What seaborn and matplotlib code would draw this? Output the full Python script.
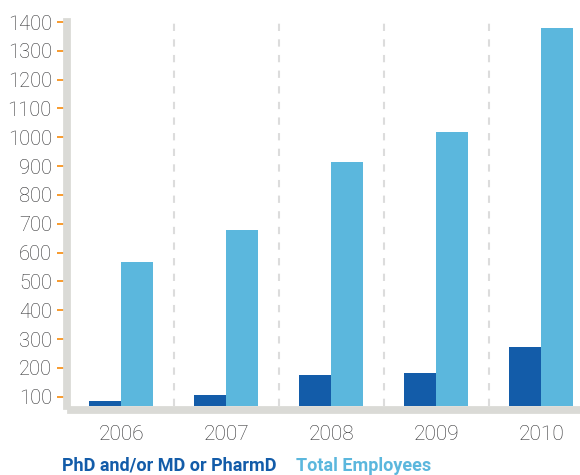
import numpy as np
import pandas as pd
import matplotlib
matplotlib.use('Agg')
import matplotlib.pyplot as plt
import seaborn as sns

# Data
years = ['2006', '2007', '2008', '2009', '2010']
phd_md_pharmd = [86, 107, 176, 183, 273]
total_employees = [568, 678, 913, 1017, 1380]
series_names = ['PhD and/or MD or PharmD', 'Total Employees']
y_ticks = list(range(100, 1500, 100))

dark_blue = '#135ca9'
light_blue = '#5bb7dd'
axis_gray = '#dadad6'
text_gray = '#303032'
tick_orange = '#f7931e'

df = pd.DataFrame({
    'year': years * 2,
    'count': phd_md_pharmd + total_employees,
    'series': [series_names[0]] * len(years) + [series_names[1]] * len(years),
})

sns.set_style('white')
plt.rcParams['font.family'] = ['Roboto', 'DejaVu Sans']

fig = plt.figure(figsize=(5.8, 4.75), dpi=100)
# axes box in pixels: left 71, right 580, bottom 406, top 22
ax = fig.add_axes([71 / 580, 1 - 406 / 475, 1 - 71 / 580, (406 - 22) / 475])

sns.barplot(data=df, x='year', y='count', hue='series',
            palette=[dark_blue, light_blue], width=0.61, gap=0,
            legend=False, ax=ax, saturation=1, errorbar=None, linewidth=0)

ax.set_ylim(68, 1400)
ax.set_xlim(-0.48, len(years) - 0.63)
ax.set_yticks(y_ticks)
ax.set_xlabel('')
ax.set_ylabel('')

# dashed separators between year groups
ax.set_xticks(np.arange(len(years) - 1) + 0.5, minor=True)
ax.grid(which='minor', axis='x', color='#dcdcdc', linestyle=(0, (3.5, 4)), lw=1.5)
ax.grid(which='major', visible=False)
ax.set_axisbelow(True)

# thick gray axis lines
for side in ['top', 'right']:
    ax.spines[side].set_visible(False)
for side in ['left', 'bottom']:
    ax.spines[side].set_color(axis_gray)
    ax.spines[side].set_linewidth(5.6)
    ax.spines[side].set_position(('outward', 2.8))

ax.tick_params(axis='y', which='major', direction='out', length=7.5, width=1.3,
               color=tick_orange, pad=3.5, labelsize=14.5, labelcolor=text_gray, left=True)
ax.tick_params(axis='x', which='both', length=0, pad=11, labelsize=15,
               labelcolor=text_gray)
ax.tick_params(axis='y', which='minor', length=0)
for lbl in ax.get_xticklabels() + ax.get_yticklabels():
    lbl.set_fontweight('light')

# legend as coloured text below the chart
fig.text(62 / 580, 1 - 466 / 475, series_names[0], color=dark_blue,
         fontsize=13, fontweight='bold', va='center', ha='left')
fig.text(296 / 580, 1 - 466 / 475, series_names[1], color=light_blue,
         fontsize=13, fontweight='bold', va='center', ha='left')

fig.savefig('out.png', dpi=100)
